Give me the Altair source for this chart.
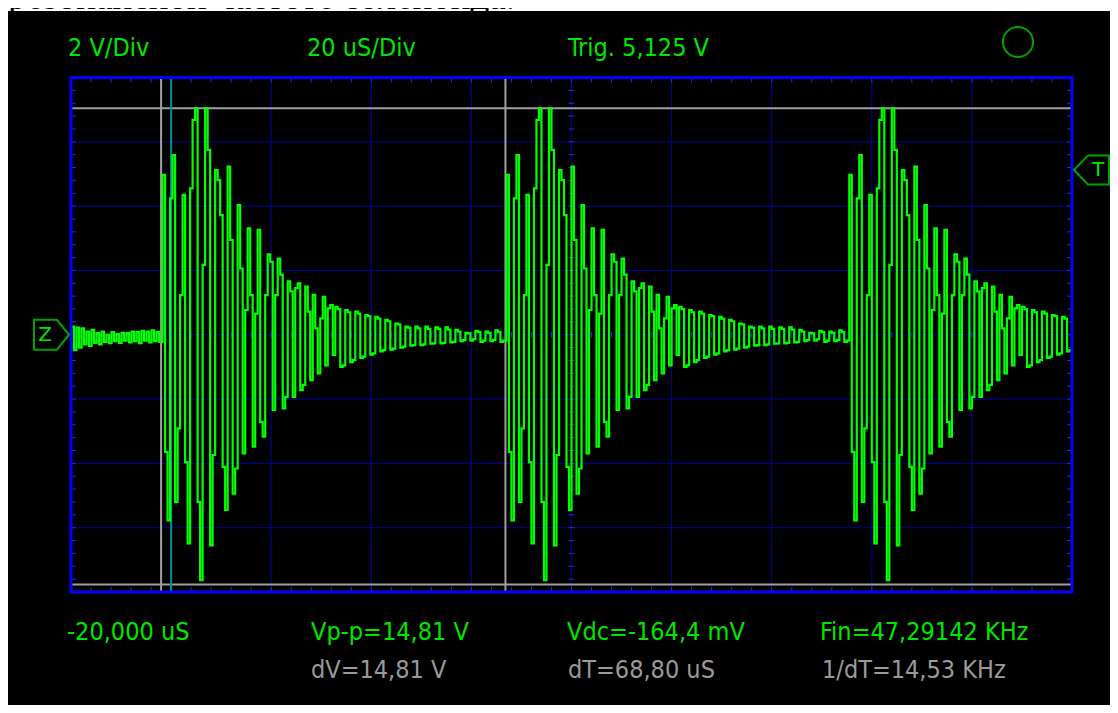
import altair as alt
import pandas as pd

SAMPLE_US = 0.5                      # time between displayed samples (us)
pre_start_us = -19.9                 # first sample, left edge of screen

# small ripple before the first burst (V)
pre_ripple_v = [0.25, -0.48, 0.22, -0.40, 0.20, -0.30, 0.10, -0.35, 0.15, -0.25,
                0.05, -0.30, 0.10, -0.22, 0.00, -0.26, 0.08, -0.20, 0.02, -0.25,
                0.06, -0.18, 0.05, -0.24, 0.10, -0.20, 0.08, -0.26, 0.12, -0.18,
                0.10, -0.24, 0.14, -0.20, 0.08, -0.22]

# one ringing burst: strong head (V)
burst_head_v = [4.97, -3.64, -5.77, 4.24, 5.59, -5.20, -2.91, 1.23, 4.35, -3.96,
                -6.49, 4.55, 6.68, 7.04, -5.20, -7.63, 2.17, 7.04, 5.75, -6.55,
                -3.74, 5.12, 4.81, 3.72, -4.11, -5.45, 5.23, 2.95, -4.94, -4.16,
                4.03, 2.06, -3.69, 0.77, 3.31, 1.23, -3.48, 0.66, 3.26, -2.71,
                -3.17, 1.23, 2.50, 2.27, -2.34, 1.23, 2.37, 1.87, -2.29, -1.93,
                1.66, 1.35, -1.93, 1.45, 1.60, -1.72, -1.56, 1.50, 0.72, -1.41,
                1.24, 0.20, -1.20, 0.51, 1.18, -0.95, 0.82, 0.92, -0.63]

# ... and its decaying tail (V)
burst_tail_v = [0.87, 0.80, -1.00, -0.95, 0.77, 0.70, -0.85, -0.79,
                0.72, 0.66, -0.72, -0.68, 0.61, 0.58, -0.62, -0.58,
                0.56, 0.50, -0.52, -0.48, 0.46, 0.42, -0.46, -0.43,
                0.35, 0.32, -0.40, -0.37, 0.25, 0.22, -0.34, -0.32,
                0.25, 0.20, -0.32, -0.30, 0.25, 0.18, -0.28, -0.27,
                0.23, 0.18, -0.27, -0.25, 0.23, 0.16, -0.24, -0.22,
                0.15, 0.10, -0.20, -0.17, 0.06, 0.04, -0.18, -0.14,
                0.12, 0.08, -0.22, -0.18, 0.10, 0.06, -0.20, -0.16,
                0.14, 0.08, -0.22, -0.18]

burst_start_us = [-1.7, 67.0, 135.5]   # start of each of the three bursts
time_cursor_us = [-2.0, 66.8]          # gray vertical cursors (dT = 68,80 uS)
volt_cursor_v = [7.04, -7.77]          # gray horizontal cursors (dV = 14,81 V)
trigger_time_us = [0.0]                # cyan trigger line
trigger_level_v = 5.125                # "T" marker

x_domain = [-20, 180]                  # 10 div x 20 uS
y_domain = [-8, 8]                     # 8 div x 2 V
x_grid_us = [0, 20, 40, 60, 80, 100, 120, 140, 160]
y_grid_v = [-6, -4, -2, 0, 2, 4, 6]
x_minor_us = [-20 + 4 * k for k in range(1, 50)]
y_minor_v = [round(-8 + 0.4 * k, 2) for k in range(1, 40)]

header_text = ["2 V/Div", "20 uS/Div", "Trig. 5,125 V"]
readout_green = ["-20,000 uS", "Vp-p=14,81 V", "Vdc=-164,4 mV", "Fin=47,29142 KHz"]
readout_gray = ["dV=14,81 V", "dT=68,80 uS", "1/dT=14,53 KHz"]
caption_text = "резонансной частоте соленоида."

# ---------------- build the trace table ----------------
rows = []
for i, v in enumerate(pre_ripple_v):
    rows.append({"t": pre_start_us + i * SAMPLE_US, "v": v})
template = burst_head_v + burst_tail_v
for k, t0 in enumerate(burst_start_us):
    t_end = burst_start_us[k + 1] if k + 1 < len(burst_start_us) else x_domain[1] + 0.01
    for i, v in enumerate(template):
        t = t0 + i * SAMPLE_US
        if t < t_end:
            rows.append({"t": t, "v": v})
wave = pd.DataFrame(rows)

# ---------------- layout / style ----------------
W, H = 1001, 514.5
PAD = {"left": 63, "top": 69.5, "right": 38, "bottom": 113}
GREEN = "#00ff00"
TXT_GREEN = "#00e600"
GRAY_TXT = "#9a9a9a"
FRAME = "#0000ff"
GRID = "#0000a0"
FONT = "Liberation Sans Narrow, Arial Narrow, DejaVu Sans Condensed, Liberation Sans, sans-serif"
FS = 25

xs = alt.Scale(domain=x_domain, nice=False, zero=False)
ys = alt.Scale(domain=y_domain, nice=False, zero=False)
one = pd.DataFrame({"k": [0]})

def X(field="t:Q"):
    return alt.X(field, scale=xs, axis=None)

def Y(field="v:Q"):
    return alt.Y(field, scale=ys, axis=None)

layers = []

# white strip with the cut-off caption of the page above the screenshot
layers.append(alt.Chart(one).mark_rect(color="white").encode(
    x=alt.value(-PAD["left"]), x2=alt.value(W + PAD["right"]),
    y=alt.value(-PAD["top"]), y2=alt.value(-PAD["top"] + 3)))
layers.append(alt.Chart(one).mark_text(
    text=caption_text, font="Liberation Serif, Times New Roman, serif", fontSize=37,
    color="black", align="left", baseline="alphabetic").encode(
    x=alt.value(-PAD["left"]), y=alt.value(-PAD["top"] + 1)))

# major grid
layers.append(alt.Chart(pd.DataFrame({"t": x_grid_us})).mark_rule(
    color=GRID, strokeWidth=1).encode(x=X()))
layers.append(alt.Chart(pd.DataFrame({"v": y_grid_v})).mark_rule(
    color=GRID, strokeWidth=1).encode(y=Y()))

# minor ticks on the border and centre lines
mx = pd.DataFrame({"t": x_minor_us})
my = pd.DataFrame({"v": y_minor_v})
TICK = "#2a2ad0"
layers.append(alt.Chart(mx).mark_rule(color=TICK).encode(x=X(), y=alt.value(0), y2=alt.value(5)))
layers.append(alt.Chart(mx).mark_rule(color=TICK).encode(x=X(), y=alt.value(H - 5), y2=alt.value(H)))
layers.append(alt.Chart(mx).mark_rule(color=TICK).encode(x=X(), y=alt.value(H / 2 - 3), y2=alt.value(H / 2 + 3)))
layers.append(alt.Chart(my).mark_rule(color=TICK).encode(y=Y(), x=alt.value(0), x2=alt.value(5)))
layers.append(alt.Chart(my).mark_rule(color=TICK).encode(y=Y(), x=alt.value(W - 5), x2=alt.value(W)))
layers.append(alt.Chart(my).mark_rule(color=TICK).encode(y=Y(), x=alt.value(W / 2 - 3), x2=alt.value(W / 2 + 3)))

# cursors
layers.append(alt.Chart(pd.DataFrame({"v": volt_cursor_v})).mark_rule(
    color="#a0a0a0", strokeWidth=2).encode(y=Y()))
layers.append(alt.Chart(pd.DataFrame({"t": time_cursor_us})).mark_rule(
    color="#a0a0a0", strokeWidth=2).encode(x=X()))
layers.append(alt.Chart(pd.DataFrame({"t": trigger_time_us})).mark_rule(
    color="#009090", strokeWidth=2).encode(x=X()))

# the trace (sample-and-hold drawing, as on the scope screen)
layers.append(alt.Chart(wave).mark_line(
    color=GREEN, strokeWidth=2.2, interpolate="step-after", clip=True).encode(
    x=X(), y=Y(), order="t:Q"))

# frame
layers.append(alt.Chart(one).mark_rect(filled=False, stroke=FRAME, strokeWidth=3).encode(
    x=alt.value(0), x2=alt.value(W), y=alt.value(0), y2=alt.value(H)))

# header and readouts
def txt(s, px, py, color):
    return alt.Chart(one).mark_text(
        text=s, font=FONT, fontSize=FS, color=color, align="left",
        baseline="alphabetic").encode(x=alt.value(px), y=alt.value(py))

for s, px in zip(header_text, [-3, 236, 497]):
    layers.append(txt(s, px, -21.5, TXT_GREEN))
for s, px in zip(readout_green, [-4, 240, 496, 749]):
    layers.append(txt(s, px, 562.5, TXT_GREEN))
for s, px in zip(readout_gray, [240, 497, 751]):
    layers.append(txt(s, px, 600.5, GRAY_TXT))

# status circle
layers.append(alt.Chart(one).mark_point(
    shape="circle", filled=False, color=TXT_GREEN, strokeWidth=2, size=908).encode(
    x=alt.value(947), y=alt.value(-35.5)))

# Z (zero level) marker and T (trigger level) marker
z_shape = "M -1 -0.857 L 0.31 -0.857 L 1 0 L 0.31 0.857 L -1 0.857 Z"
t_shape = "M -1 0 L -0.2 -0.83 L 1 -0.83 L 1 0.83 L -0.2 0.83 Z"
layers.append(alt.Chart(one).mark_point(
    shape=z_shape, filled=False, color=TXT_GREEN, strokeWidth=2, size=1225).encode(
    x=alt.value(-19.5), y=alt.Y(datum=0, scale=ys, axis=None)))
layers.append(alt.Chart(one).mark_text(
    text="Z", font="DejaVu Sans, sans-serif", fontSize=20, color=TXT_GREEN,
    align="center", baseline="middle").encode(
    x=alt.value(-26), y=alt.Y(datum=0, scale=ys, axis=None)))
layers.append(alt.Chart(one).mark_point(
    shape=t_shape, filled=False, color=TXT_GREEN, strokeWidth=2, size=1225).encode(
    x=alt.value(1020.5), y=alt.Y(datum=trigger_level_v, scale=ys, axis=None)))
layers.append(alt.Chart(one).mark_text(
    text="T", font="DejaVu Sans, sans-serif", fontSize=20, color=TXT_GREEN,
    align="center", baseline="middle").encode(
    x=alt.value(1027), y=alt.Y(datum=trigger_level_v, scale=ys, axis=None)))

chart = alt.layer(*layers).properties(
    width=W, height=H, padding=PAD,
    autosize=alt.AutoSizeParams(type="none"),
).configure(background="#000000").configure_view(strokeWidth=0)

chart.save("out.html", embed_options={"renderer": "svg", "actions": False})
